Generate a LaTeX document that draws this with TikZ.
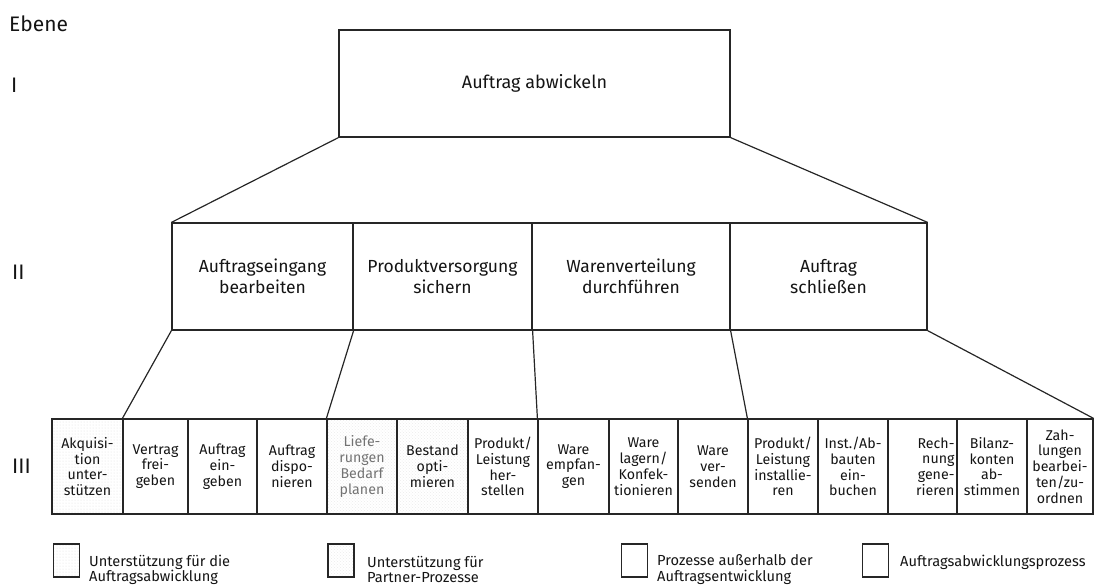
\documentclass[tikz,border=0pt]{standalone}
\usepackage{fontspec}
\setmainfont{Fira Sans}
\usetikzlibrary{patterns}

\tikzset{
  frame/.style={draw=black!85, line width=1.2pt},
  lone/.style={frame, inner sep=0pt, minimum width=391pt, minimum height=107pt,
    font=\fontsize{18}{21}\selectfont, text=black!92},
  ltwo/.style={frame, inner sep=0pt, minimum height=107pt, align=center,
    font=\fontsize{17.5}{20.5}\selectfont, text=black!92},
  lthree/.style={frame, inner sep=0pt, minimum height=95pt, align=center,
    font=\fontsize{14.2}{15.8}\selectfont, text=black!92},
  support/.style={pattern=dots, pattern color=black!14},
  partner/.style={pattern=crosshatch dots, pattern color=black!8},
  link/.style={draw=black!85, line width=1.2pt},
  levellabel/.style={anchor=west, inner sep=0pt, font=\fontsize{21}{24}\selectfont, text=black!92},
  legbox/.style={frame, inner sep=0pt, minimum width=26pt, minimum height=33pt},
  legtext/.style={anchor=west, inner sep=0pt, align=left,
    font=\fontsize{14.6}{15.2}\selectfont, text=black!92},
}

\begin{document}
\begin{tikzpicture}[x=1pt, y=-1pt]
\useasboundingbox (0,0) rectangle (1095,587);

% level labels
\node[levellabel] (ebene) at (9,24) {Ebene};
\node[levellabel] (lvI)   at (11,85) {I};
\node[levellabel] (lvII)  at (12,272) {II};
\node[levellabel] (lvIII) at (12,466) {III};

% level I
\node[lone] (top) at (534.5,83.5) {Auftrag abwickeln};

% level II
\node[ltwo, minimum width=181pt] (ea) at (262.5,276.5) {Auftragseingang\\bearbeiten};
\node[ltwo, minimum width=179pt] (eb) at (442.5,276.5) {Produktversorgung\\sichern};
\node[ltwo, minimum width=198pt] (ec) at (631,276.5) {Warenverteilung\\durchführen};
\node[ltwo, minimum width=197pt] (ed) at (828.5,276.5) {Auftrag\\schließen};

% level III
\node[lthree, support, minimum width=71pt] (c1)  at (87.5,466.5)  {Akquisi-\\tion\\unter-\\stützen};
\node[lthree, minimum width=65pt]  (c2)  at (155.5,466.5) {Vertrag\\frei-\\geben};
\node[lthree, minimum width=69pt]  (c3)  at (222.5,466.5) {Auftrag\\ein-\\geben};
\node[lthree, minimum width=70pt]  (c4)  at (292,466.5)   {Auftrag\\dispo-\\nieren};
\node[lthree, partner, minimum width=70pt, text=black!55] (c5) at (362,466.5) {Liefe-\\rungen\\Bedarf\\planen};
\node[lthree, partner, minimum width=71pt] (c6) at (432.5,466.5) {Bestand\\opti-\\mieren};
\node[lthree, minimum width=70pt]  (c7)  at (503,466.5)   {Produkt/\\Leistung\\her-\\stellen};
\node[lthree, minimum width=71pt]  (c8)  at (573.5,466.5) {Ware\\empfan-\\gen};
\node[lthree, minimum width=69pt]  (c9)  at (643.5,466.5) {Ware\\lagern/\\Konfek-\\tionieren};
\node[lthree, minimum width=70pt]  (c10) at (713,466.5)   {Ware\\ver-\\senden};
\node[lthree, minimum width=70pt]  (c11) at (783,466.5)   {Produkt/\\Leistung\\installie-\\ren};
\node[lthree, minimum width=70pt]  (c12) at (853,466.5)   {Inst./Ab-\\bauten\\ein-\\buchen};
\node[lthree, minimum width=69pt, text width=64pt, align=right] (c13) at (922.5,466.5) {Rech-\\nung\\gene-\\rieren};
\node[lthree, minimum width=70pt]  (c14) at (992,466.5)   {Bilanz-\\konten\\ab-\\stimmen};
\node[lthree, minimum width=66pt]  (c15) at (1060,466.5)  {Zah-\\lungen\\bearbei-\\ten/zu-\\ordnen};

% decomposition lines
\draw[link] (top.south west) -- (ea.north west);
\draw[link] (top.south east) -- (ed.north east);
\draw[link] (ea.south west) -- (c2.north west);
\draw[link] (ea.south east) -- (c5.north west);
\draw[link] (eb.south east) -- (c8.north west);
\draw[link] (ec.south east) -- (c11.north west);
\draw[link] (ed.south east) -- (c15.north east);

% legend
\node[legbox, support] (k1) at (66.5,560.5) {};
\node[legtext] (t1) at (89,569.5) {Unterstützung für die\\Auftragsabwicklung};
\node[legbox, partner] (k2) at (341,560.5) {};
\node[legtext] (t2) at (367,569.5) {Unterstützung für\\Partner-Prozesse};
\node[legbox] (k3) at (634.5,560.5) {};
\node[legtext] (t3) at (657,569.5) {Prozesse außerhalb der\\Auftragsentwicklung};
\node[legbox] (k4) at (875.5,560.5) {};
\node[legtext] (t4) at (900,562) {Auftragsabwicklungsprozess};
\end{tikzpicture}
\end{document}
